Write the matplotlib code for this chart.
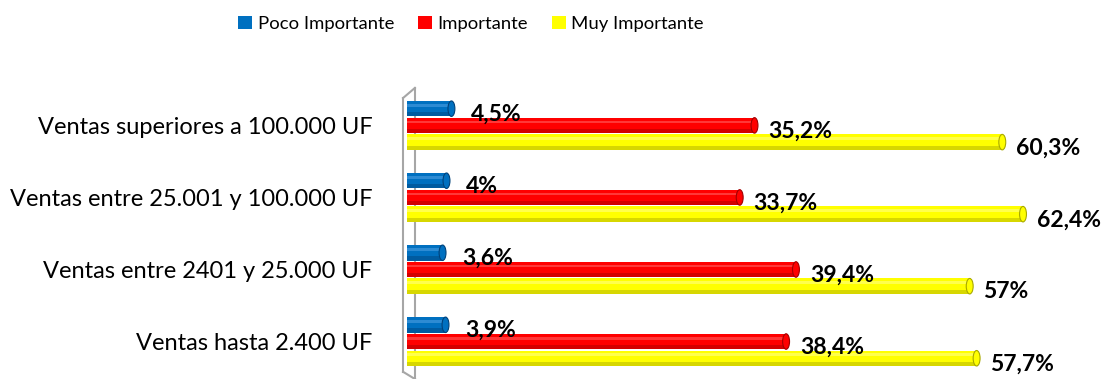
import numpy as np
import matplotlib.pyplot as plt
from matplotlib.patches import Ellipse, Patch

plt.rcParams['font.family'] = ['Lato', 'DejaVu Sans']

categorias = ['Ventas hasta 2.400 UF', 'Ventas entre 2401 y 25.000 UF',
              'Ventas entre 25.001 y 100.000 UF', 'Ventas superiores a 100.000 UF']
poco = [3.9, 3.6, 4.0, 4.5]
importante = [38.4, 39.4, 33.7, 35.2]
muy = [57.7, 57.0, 62.4, 60.3]
etq_poco = ['3,9%', '3,6%', '4%', '4,5%']
etq_imp = ['38,4%', '39,4%', '33,7%', '35,2%']
etq_muy = ['57,7%', '57%', '62,4%', '60,3%']

# nombre, valores, etiquetas, color, sombra, brillo, separación de etiqueta
series = [('Poco Importante', poco, etq_poco, '#0070C0', '#00427a', '#5aa6e6', 2.0),
          ('Importante', importante, etq_imp, '#FF0000', '#a00000', '#ff7070', 1.4),
          ('Muy Importante', muy, etq_muy, '#FFFF00', '#a8a800', '#ffff9a', 1.4)]

fig = plt.figure(figsize=(11.03, 3.79), dpi=100)
ax = fig.add_axes([0.369, 0.0, 0.6265, 0.768])

y = np.arange(len(categorias))
h = 0.215
paso = 0.232

for i, (nombre, vals, etqs, col, oscuro, claro, sep) in enumerate(series):
    yy = y + (1 - i) * paso
    ax.barh(yy, vals, height=h, color=col, zorder=3)
    # sombra inferior y brillo para dar aspecto de cilindro
    ax.barh(yy - h * 0.36, vals, height=h * 0.28, color=oscuro, alpha=0.45, zorder=4, linewidth=0)
    ax.barh(yy + h * 0.22, vals, height=h * 0.18, color=claro, alpha=0.5, zorder=4, linewidth=0)
    for v, yc, t in zip(vals, yy, etqs):
        ax.add_patch(Ellipse((v, yc), 0.7, h, facecolor=col, edgecolor=oscuro,
                             linewidth=0.8, zorder=5))
        ax.text(v + sep, yc - 0.08, t, fontsize=16.5, fontweight='bold',
                va='center', ha='left', color='black', zorder=6)

ax.set_xlim(0, 70)
ax.set_ylim(-0.52, 3.52)
ax.set_yticks(y)
ax.set_yticklabels(categorias, fontsize=17, color='black')
ax.tick_params(axis='y', length=0, pad=25)
ax.set_xticks([])
for s in ax.spines.values():
    s.set_visible(False)

# pared lateral del gráfico 3D
gris = '#a6a6a6'
ax.plot([-0.4, -0.4], [-0.42, 3.38], color=gris, lw=1.5, clip_on=False, zorder=2)
ax.plot([-0.4, 0.8], [3.38, 3.52], color=gris, lw=1.5, clip_on=False, zorder=2)
ax.plot([0.8, 0.8], [-0.5, 3.52], color=gris, lw=1.5, clip_on=False, zorder=1)
ax.plot([-0.4, 0.8], [-0.42, -0.52], color=gris, lw=1.5, clip_on=False, zorder=2)

handles = [Patch(facecolor=s[3], label=s[0]) for s in series]
fig.legend(handles=handles, loc='center', bbox_to_anchor=(0.427, 0.937), ncol=3,
           frameon=False, fontsize=13.3, handlelength=0.75, handleheight=0.75,
           handletextpad=0.3, columnspacing=1.3)

fig.savefig('out.png', dpi=100)
